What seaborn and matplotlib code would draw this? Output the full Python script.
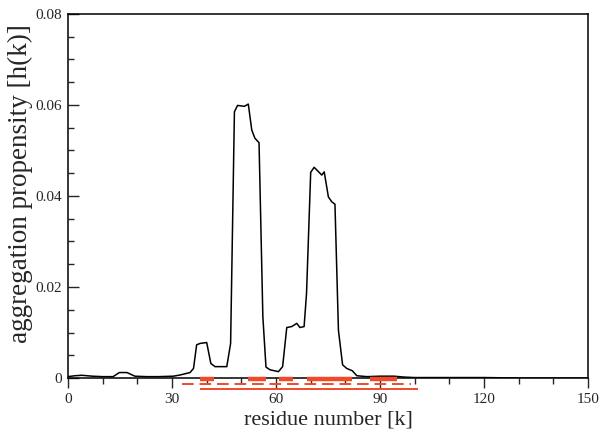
import numpy as np
import pandas as pd
import matplotlib
matplotlib.use("Agg")
import matplotlib.pyplot as plt
import seaborn as sns
from matplotlib.ticker import MultipleLocator, FixedLocator

# ---- data ----
residue = [0, 2, 4, 7, 10, 13, 14.8, 17, 19.3, 22.7, 26, 30.4, 32.3, 35.2, 36.2, 37.1, 38.1,
           40.0, 41.2, 42.4, 45.8, 46.9, 48.0, 48.9, 50.9, 52.0, 53.0, 53.9, 55.1, 56.2,
           57.1, 58.3, 60.7, 61.9, 63.1, 64.5, 66.0, 66.9, 68.1, 68.8, 70.0, 71.0, 73.2,
           73.9, 75.1, 76.1, 77.0, 78.0, 79.2, 80.4, 82.0, 83.3, 86.2, 90, 94, 97, 100,
           110, 120, 130, 140, 150]
propensity = [0.0003, 0.0005, 0.0006, 0.0004, 0.0003, 0.0003, 0.0012, 0.0012, 0.0004, 0.0003,
              0.0003, 0.0004, 0.00066, 0.0012, 0.0021, 0.0073, 0.0076, 0.0078, 0.0032, 0.0025,
              0.0025, 0.0076, 0.0585, 0.0599, 0.0597, 0.0602, 0.0545, 0.0527, 0.0517, 0.0135,
              0.0024, 0.0018, 0.0014, 0.0025, 0.0111, 0.0113, 0.0120, 0.0111, 0.0113, 0.0186,
              0.0452, 0.0463, 0.0446, 0.0453, 0.0398, 0.0387, 0.0382, 0.0105, 0.0029, 0.0021,
              0.0016, 0.0005, 0.0003, 0.0004, 0.0004, 0.0002, 0.0001, 0.0001, 0.0001, 0.0,
              0.0, 0.0]

# predicted aggregation-prone regions (thick red segments on the axis)
region_start = [38, 52, 61, 69, 87]
region_end = [42, 57, 65, 82, 95]
# dashed and thin solid red ranges below the axis
dashed_range = [33, 99]
solid_range = [38, 101]
band_y = [-0.0002, -0.0014, -0.0025]

x_ticks = [0, 30, 60, 90, 120, 150]
y_ticks = [0, 0.02, 0.04, 0.06, 0.08]
y_tick_labels = ["0", "0.02", "0.04", "0.06", "0.08"]

# ---- plot ----
sns.set_style("white")
plt.rcParams["font.family"] = ["Liberation Serif", "DejaVu Serif"]

fig = plt.figure(figsize=(6.10, 4.36), dpi=100)
ax = fig.add_axes([0.1115, 0.133, 0.8525, 0.835])

df = pd.DataFrame({"k": residue, "h": propensity})
sns.lineplot(data=df, x="k", y="h", color="black", linewidth=1.1, ax=ax, sort=False)

red = "#ef4a2a"
ax.hlines([band_y[0]] * len(region_start), region_start, region_end, colors=red,
          linewidth=3.2, clip_on=False, zorder=5)
ax.hlines(band_y[1], dashed_range[0], dashed_range[1], colors=red, linewidth=1.4,
          linestyles=(0, (6, 3)), clip_on=False, zorder=5)
ax.hlines(band_y[2], solid_range[0], solid_range[1], colors=red, linewidth=1.4,
          clip_on=False, zorder=5)

ax.set_xlim(0, 150)
ax.set_ylim(0, 0.08)
ax.xaxis.set_major_locator(FixedLocator(x_ticks))
ax.xaxis.set_minor_locator(MultipleLocator(10))
ax.yaxis.set_major_locator(FixedLocator(y_ticks))
ax.set_yticklabels(y_tick_labels)
ax.yaxis.set_minor_locator(MultipleLocator(0.005))

ax.tick_params(axis="x", which="major", direction="out", length=7, width=1.0,
               labelsize=11, pad=4, bottom=True)
ax.tick_params(axis="x", which="minor", direction="out", length=4, width=1.0, bottom=True)
ax.tick_params(axis="y", which="major", direction="in", length=8, width=1.0,
               labelsize=11, pad=4, left=True)
ax.tick_params(axis="y", which="minor", direction="in", length=4, width=1.0, left=True)

for s in ax.spines.values():
    s.set_visible(True)
    s.set_linewidth(1.1)
    s.set_color("black")

ax.set_xlabel("residue number [k]", fontsize=16, labelpad=3)
ax.set_ylabel("aggregation propensity [h(k)]", fontsize=19.5)
ax.yaxis.set_label_coords(-0.067, 0.533)

fig.savefig("out.png", dpi=100)
